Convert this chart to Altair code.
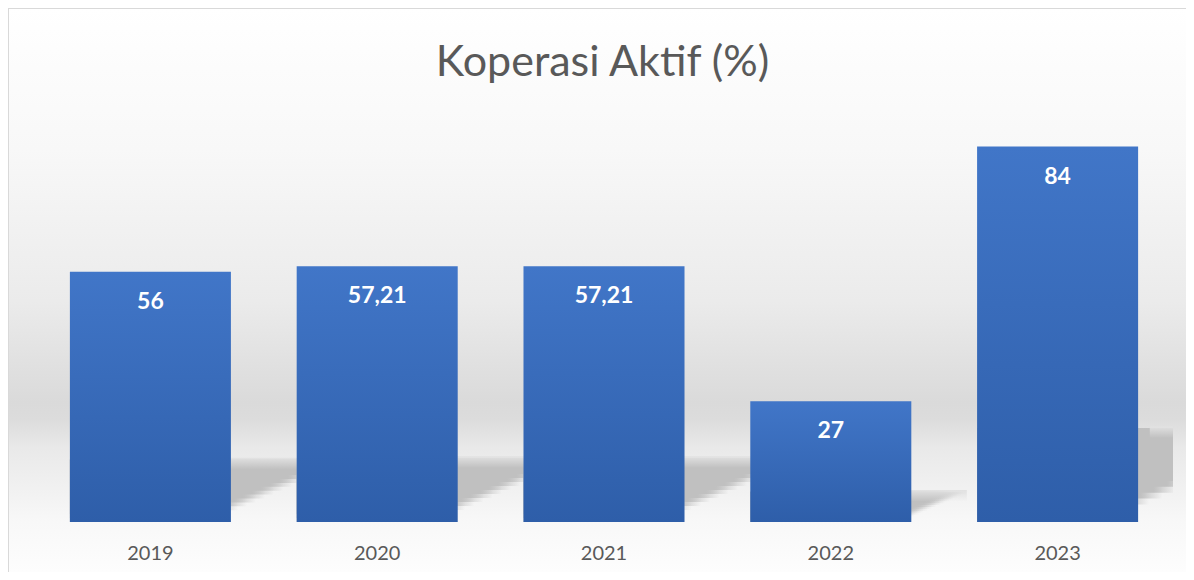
import altair as alt
import pandas as pd

years = ["2019", "2020", "2021", "2022", "2023"]
values = [56, 57.21, 57.21, 27, 84]
labels = ["56", "57,21", "57,21", "27", "84"]
title_text = "Koperasi Aktif (%)"

df = pd.DataFrame({"year": years, "value": values, "label": labels})

W, H = 1165, 564
FULL_W = 1178
BASE = 514
PX_PER_UNIT = BASE / 115.0

x = alt.X("year:N", sort=years, title=None,
          scale=alt.Scale(range=[29, 1163], paddingInner=0.29, paddingOuter=0.145),
          axis=alt.Axis(labelAngle=0, domain=False, ticks=False, labelFont="Lato",
                        labelFontSize=20, labelColor="#595959", labelPadding=21,
                        offset=-(H - BASE), grid=False, zindex=1))
yscale = alt.Scale(domain=[0, 115], range=[BASE, 0], nice=False, zero=True)
y = alt.Y("value:Q", title=None, axis=None, scale=yscale)

one = alt.Chart(pd.DataFrame({"k": [0]}))

bg = one.mark_rect(
    fill=alt.LinearGradient(
        gradient="linear", x1=0, x2=0, y1=0, y2=1,
        stops=[alt.GradientStop(offset=0, color="#ffffff"),
               alt.GradientStop(offset=0.25, color="#f8f8f8"),
               alt.GradientStop(offset=0.52, color="#ebebeb"),
               alt.GradientStop(offset=0.70, color="#dadada"),
               alt.GradientStop(offset=0.73, color="#dcdcdc"),
               alt.GradientStop(offset=0.78, color="#e9e9e9"),
               alt.GradientStop(offset=0.87, color="#f3f3f3"),
               alt.GradientStop(offset=0.91, color="#f8f8f8"),
               alt.GradientStop(offset=1, color="#fdfdfd")])
).encode(x=alt.value(0), x2=alt.value(FULL_W), y=alt.value(0), y2=alt.value(H))

border_top = one.mark_rule(color="#d9d9d9", strokeWidth=2).encode(
    x=alt.value(0), x2=alt.value(FULL_W), y=alt.value(0))
border_left = one.mark_rule(color="#d9d9d9", strokeWidth=2).encode(
    x=alt.value(0), y=alt.value(0), y2=alt.value(H))

base = alt.Chart(df)

# skewed soft shadow built from overlapping horizontal slices
N = 16
SKEW = 2.3
shadow_fill = alt.LinearGradient(
    gradient="linear", x1=0, x2=1, y1=0, y2=0,
    stops=[alt.GradientStop(offset=0, color="#c0c0c0"),
           alt.GradientStop(offset=0.86, color="#c0c0c0"),
           alt.GradientStop(offset=1, color="rgba(192,192,192,0)")])
shadow_layers = []
for k in range(N):
    f_lo = k / N
    layer = base.transform_calculate(
        s_lo=f"datum.value * 0.25 * {f_lo}",
        s_hi="datum.value * 0.25",
        off=f"max(0, {SKEW} * ({f_lo + 1.0 / N} - 0.2) * datum.value * 0.25 * {PX_PER_UNIT})",
    ).mark_bar(fill=shadow_fill, clip=True).encode(
        x=x,
        xOffset=alt.XOffset("off:Q", scale=None),
        y=alt.Y("s_lo:Q", title=None, axis=None, scale=yscale),
        y2="s_hi:Q",
    )
    shadow_layers.append(layer)

# soft top edge of the shadow
shadow_top = base.transform_calculate(
    s_lo="datum.value * 0.25 - 2.2",
    s_hi="datum.value * 0.25 + 0.4",
    off=f"{SKEW} * 0.8 * datum.value * 0.25 * {PX_PER_UNIT}",
).mark_bar(clip=True, fill=alt.LinearGradient(
    gradient="linear", x1=0, x2=0, y1=0, y2=1,
    stops=[alt.GradientStop(offset=0, color="rgba(225,225,225,1)"),
           alt.GradientStop(offset=1, color="rgba(225,225,225,0)")])).encode(
    x=x,
    xOffset=alt.XOffset("off:Q", scale=None),
    y=alt.Y("s_hi:Q", title=None, axis=None, scale=yscale),
    y2="s_lo:Q",
)

bars = base.mark_bar(
    fill=alt.LinearGradient(
        gradient="linear", x1=0, x2=0, y1=0, y2=1,
        stops=[alt.GradientStop(offset=0, color="#4176c8"),
               alt.GradientStop(offset=1, color="#2e5ea9")])
).encode(x=x, y=y)

text = base.mark_text(color="white", font="Lato", fontWeight="bold", fontSize=23,
                      baseline="middle", dy=30).encode(x=x, y=y, text="label:N")

chart = alt.layer(bg, border_top, border_left, *shadow_layers, shadow_top, bars, text).properties(
    width=W, height=H,
    autosize=alt.AutoSizeParams(type="none"),
    padding={"left": 0, "top": 0, "right": FULL_W - W, "bottom": 0},
    title=alt.TitleParams(title_text, font="Lato", fontSize=43, fontWeight="normal",
                          color="#595959", anchor="middle", offset=0, dy=112, dx=12,
                          baseline="alphabetic", frame="group"),
).configure_view(stroke=None).configure(background="white")

chart.save("out.html", embed_options={"renderer": "svg", "actions": False})
